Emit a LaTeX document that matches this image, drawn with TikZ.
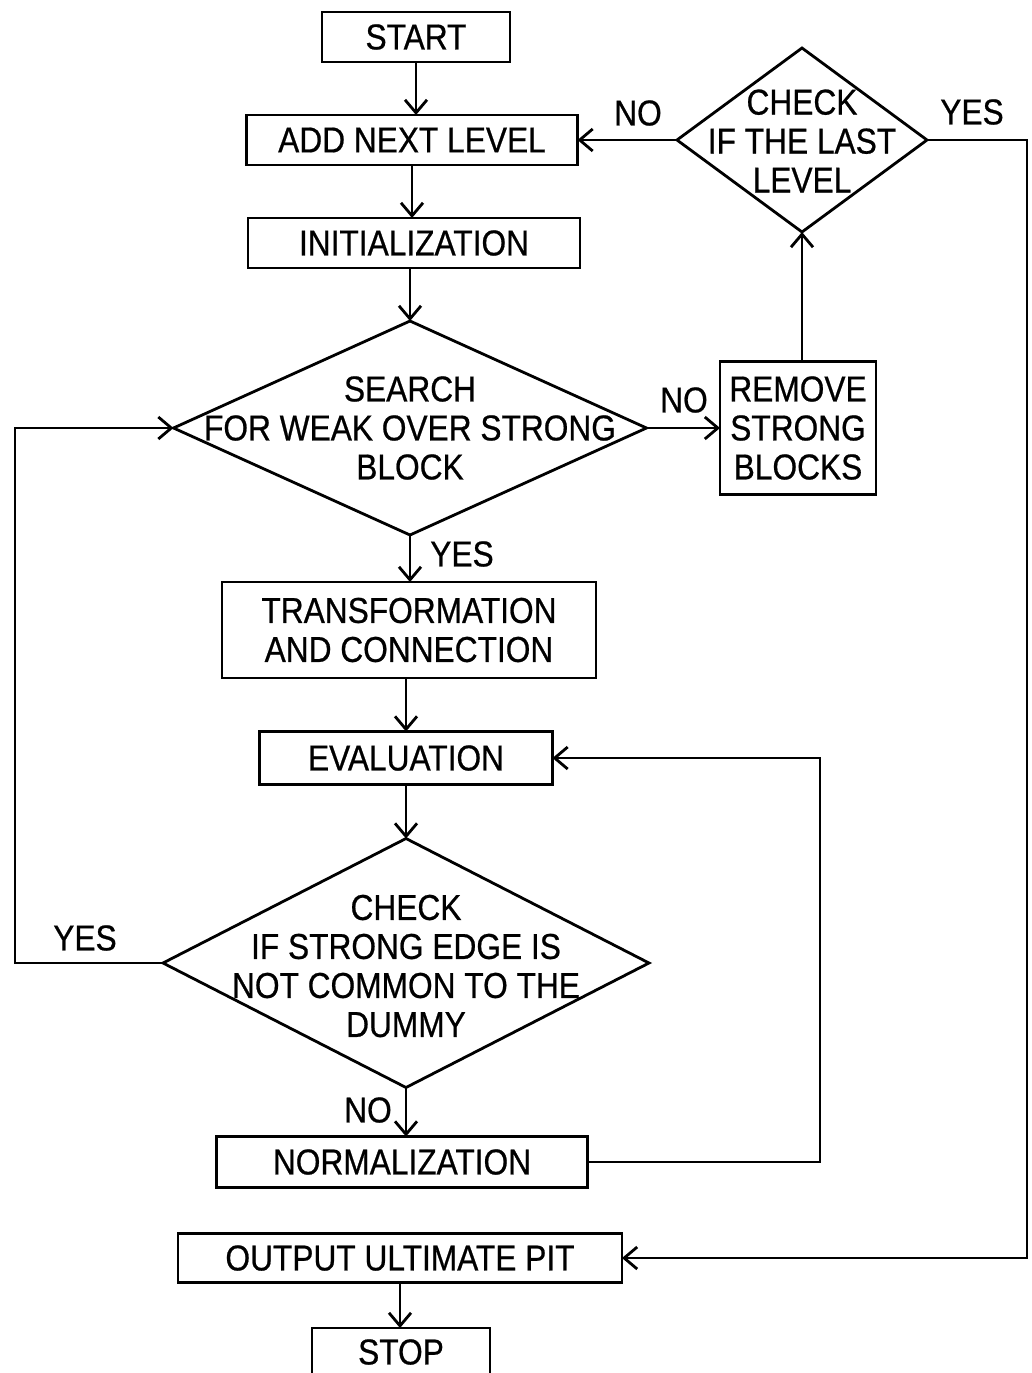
\documentclass[tikz,border=0pt]{standalone}
\usepackage{fontspec}
\setmainfont{Liberation Sans}[FakeStretch=0.88,FakeBold=0.6]
\usetikzlibrary{arrows.meta,shapes.geometric}

\begin{document}
\begin{tikzpicture}[x=1pt,y=-1pt,
  every node/.style={font=\fontsize{36}{39}\selectfont},
  box/.style={draw, line width=2.8pt, inner sep=0pt, outer sep=0pt, align=center},
  dia/.style={draw, diamond, line width=2.8pt, inner sep=0pt, outer sep=0pt},
  txt/.style={align=center, inner sep=0pt},
  lbl/.style={inner sep=0pt},
  flow/.style={line width=2.8pt, -{Straight Barb[length=13pt,width=22pt,line width=2.8pt]}}]

% page frame
\fill[white] (0,0) rectangle (1032,1373);
\path[clip] (0,0) rectangle (1032,1373);

% main column
\node[box, minimum width=188pt, minimum height=50pt] (start) at (416,37) {START};
\node[box, minimum width=331pt, minimum height=50pt] (add) at (412,140) {ADD NEXT LEVEL};
\node[box, minimum width=332pt, minimum height=50pt] (init) at (414,243) {INITIALIZATION};

\node[dia, minimum width=473pt, minimum height=214pt] (search) at (410,428) {};
\node[txt] (search-t) at (search) {SEARCH\\FOR WEAK OVER STRONG\\BLOCK};

\node[box, minimum width=156pt, minimum height=133pt] (remove) at (798,428) {REMOVE\\STRONG\\BLOCKS};

\node[dia, minimum width=250pt, minimum height=184pt] (last) at (802,140) {};
\node[txt] (last-t) at (802,141) {CHECK\\IF THE LAST\\LEVEL};

\node[box, minimum width=374pt, minimum height=96pt] (trans) at (409,630) {TRANSFORMATION\\AND CONNECTION};
\node[box, minimum width=293pt, minimum height=53pt] (eval) at (406,758) {EVALUATION};

\node[dia, minimum width=486pt, minimum height=249pt] (check) at (406,963) {};
\node[txt] (check-t) at (406,966) {CHECK\\IF STRONG EDGE IS\\NOT COMMON TO THE\\DUMMY};

\node[box, minimum width=371pt, minimum height=51pt] (norm) at (402,1162) {NORMALIZATION};
\node[box, minimum width=444pt, minimum height=49pt] (out) at (400,1258) {OUTPUT ULTIMATE PIT};
\node[box, minimum width=178pt, minimum height=60pt] (stop) at (401,1358) {};
\node[txt] (stop-t) at (401,1352) {STOP};

% turning points of the loops
\coordinate (rt) at (1027,140);
\coordinate (lf) at (15,963);
\coordinate (ev) at (820,1162);

% connectors
\draw[flow] (start.south) -- (start.south |- add.north);
\draw[flow] (add.south) -- (add.south |- init.north);
\draw[flow] (search.north |- init.south) -- (search.north);
\draw[flow] (search.east) -- (remove.west);
\draw[flow] (last.south |- remove.north) -- (last.south);
\draw[flow] (last.west) -- (add.east);
\draw[flow] (last.east) -- (rt) |- (out.east);
\draw[flow] (search.south) -- (search.south |- trans.north);
\draw[flow] (trans.south -| eval.north) -- (eval.north);
\draw[flow] (eval.south) -- (check.north);
\draw[flow] (check.west) -- (lf) |- (search.west);
\draw[flow] (check.south) -- (check.south |- norm.north);
\draw[flow] (norm.east) -- (ev) |- (eval.east);
\draw[flow] (out.south) -- (out.south |- stop.north);

% branch labels
\node[lbl] (l-no1) at (638,113) {NO};
\node[lbl] (l-yes1) at (972,112) {YES};
\node[lbl] (l-no2) at (684,400) {NO};
\node[lbl] (l-yes2) at (462,554) {YES};
\node[lbl] (l-yes3) at (85,938) {YES};
\node[lbl] (l-no3) at (368,1110) {NO};
\end{tikzpicture}
\end{document}
